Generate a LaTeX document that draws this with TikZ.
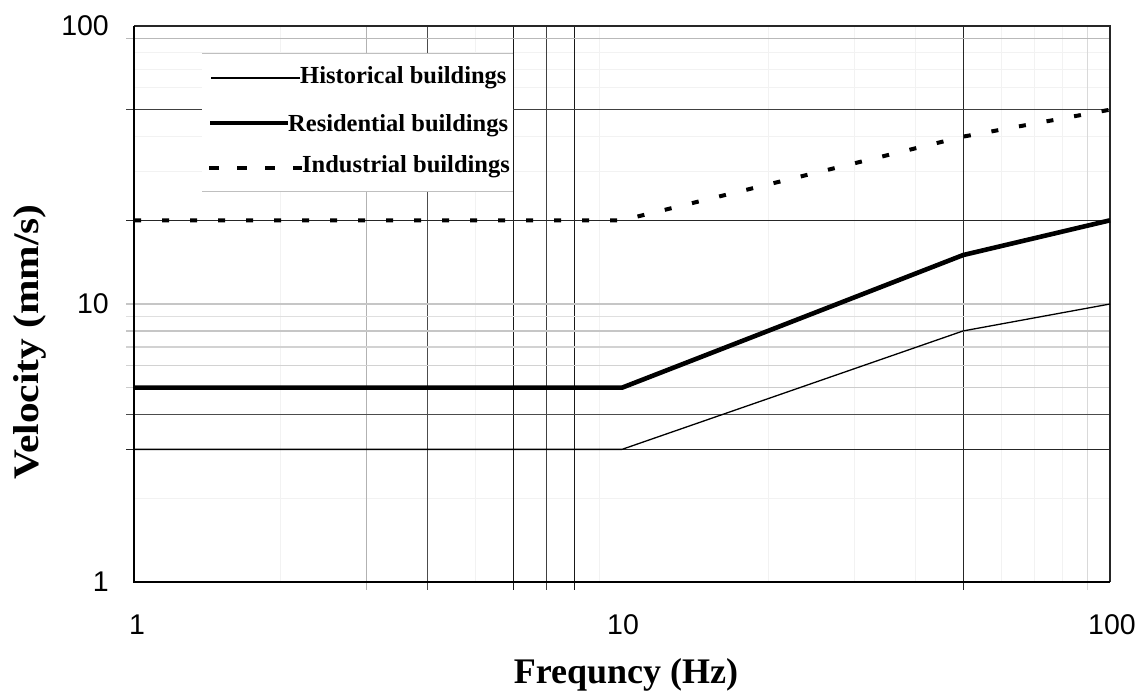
\documentclass[tikz,border=0pt]{standalone}
\usepackage{fontspec}
\setmainfont{Liberation Serif}
\newfontfamily\arialf{Liberation Sans}
\newcommand\gx[1]{{134+488*log10(#1)}}
\newcommand\gy[1]{{582-278*log10(#1)}}
\begin{document}
\begin{tikzpicture}[x=1pt,y=-1pt,
  faint/.style={line width=1pt,black!5},
  gridl/.style={line width=1.2pt},
  ticklab/.style={font=\arialf\fontsize{28.5}{31}\selectfont,inner sep=0pt},
  legtext/.style={font=\bfseries\fontsize{24.5}{28}\selectfont,inner sep=0pt,anchor=base west},
  title/.style={font=\bfseries\fontsize{36}{40}\selectfont,inner sep=0pt},
  histline/.style={line width=1.3pt,black},
  resline/.style={line width=4.6pt,black},
  indline/.style={line width=4pt,black,dash pattern=on 7pt off 21pt}]
\useasboundingbox (0,0) rectangle (1142,698);
\fill[white] (0,0) rectangle (1142,698);
% faint grid
\foreach \f in {2,5,9,20,30,40,60,70,80}{
  \draw[faint] (\gx{\f},26) -- (\gx{\f},582);}
\foreach \v in {2,30,40,60,70,80}{
  \draw[faint] (134,\gy{\v}) -- (1110,\gy{\v});}
% vertical grid lines
\foreach \f/\c in {3/gray!60,4/black!70,6/black!90,7/black!75,8/black!90,50/black!85,90/gray!30}{
  \draw[gridl,\c] (\gx{\f},26) -- (\gx{\f},590);}
% horizontal grid lines
\foreach \v/\c in {90/gray!55,50/black!75,20/black!85,10/gray!45,9/gray!25,8/gray!45,7/gray!35,6/gray!35,5/gray!40,4/black!70,3/black!85}{
  \draw[gridl,\c] (126,\gy{\v}) -- (1110,\gy{\v});}
% legend box
\fill[white] (202,54) rectangle (513,191);
\draw[gray!50,line width=1pt] (202,54) -- (513,54) (202,191) -- (513,191);
% axes
\draw[line width=1.5pt,black!85] (134,26) -- (1110,26) -- (1110,582);
\draw[line width=2.8pt,black] (134,26) -- (134,582) -- (1110,582);
% curves
\coordinate (h0) at (134,\gy{3});
\coordinate (h1) at (\gx{10},\gy{3});
\coordinate (h2) at (\gx{50},\gy{8});
\coordinate (h3) at (1110,\gy{10});
\coordinate (r0) at (134,\gy{5});
\coordinate (r1) at (\gx{10},\gy{5});
\coordinate (r2) at (\gx{50},\gy{15});
\coordinate (r3) at (1110,\gy{20});
\coordinate (i0) at (134,\gy{20});
\coordinate (i1) at (\gx{10},\gy{20});
\coordinate (i2) at (\gx{50},\gy{40});
\coordinate (i3) at (1110,\gy{50});
\draw[histline] (h0) -- (h1) -- (h2) -- (h3);
\draw[resline] (r0) -- (r1) -- (r2) -- (r3);
\draw[indline] (i0) -- (i1) -- (i2) -- (i3);
% legend
\coordinate (lh0) at (211,78); \coordinate (lh1) at (300,78);
\coordinate (lr0) at (210,123); \coordinate (lr1) at (288,123);
\coordinate (li0) at (209,168); \coordinate (li1) at (302,168);
\draw[histline] (lh0) -- (lh1);
\draw[resline] (lr0) -- (lr1);
\draw[line width=4pt,dash pattern=on 10pt off 18pt] (li0) -- (li1);
\node[legtext] (lgh) at (300,83.5) {Historical buildings};
\node[legtext] (lgr) at (288,131.5) {Residential buildings};
\node[legtext] (lgi) at (302,172.5) {Industrial buildings};
% tick labels
\node[ticklab,anchor=east] (y100) at (109,26) {100};
\node[ticklab,anchor=east] (y10) at (109,\gy{10}) {10};
\node[ticklab,anchor=east] (y1) at (109,582) {1};
\node[ticklab] (x1) at (137,625) {1};
\node[ticklab] (x10) at (623,625) {10};
\node[ticklab] (x100) at (1112,625) {100};
% titles
\node[title,anchor=base] (xt) at (626,683) {Frequncy (Hz)};
\node[title,rotate=90] (yt) at (30,342) {\scalebox{1.15}[1]{Velocity (mm/s)}};
\end{tikzpicture}
\end{document}
